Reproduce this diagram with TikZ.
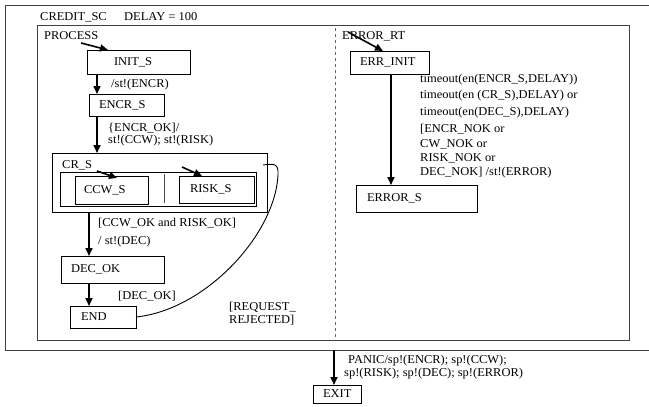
\documentclass[tikz,border=0pt]{standalone}
\usepackage{fontspec}
\setmainfont[FakeStretch=1.04]{Liberation Serif}
\usetikzlibrary{arrows.meta,calc}

\begin{document}
\begin{tikzpicture}[x=1pt, y=-1pt,
    font=\fontsize{12}{14}\selectfont,
    state/.style={draw, line width=1pt, anchor=north west, inner ysep=0pt, outer sep=0pt, align=left},
    region/.style={draw=black!75, line width=1pt, anchor=north west, inner sep=0pt, outer sep=0pt},
    arr/.style={line width=1.6pt, -{Triangle[length=8pt, width=7pt]}},
    lbl/.style={anchor=base west, inner sep=0pt}]
    \useasboundingbox (0,0) rectangle (649,407);
    \clip (0,0) rectangle (649,407);

    % Outer chart and the two regions
    \node[region, minimum width=700pt, minimum height=345pt] (credit) at (5,5) {};
    \node[region, minimum width=592pt, minimum height=315pt] (proc) at (37,25) {};
    \draw[dashed, black!60] ([xshift=298pt, yshift=-3pt]proc.north west) -- ([xshift=298pt, yshift=2pt]proc.south west);

    \node[lbl] (creditname) at (40,20) {CREDIT\_SC};
    \node[lbl] (delay) at (124,20) {DELAY = 100};
    \node[lbl] (procname) at (44,39) {PROCESS};
    \node[lbl] (errname) at (342,39) {ERROR\_RT};

    % PROCESS states
    \node[state, text width=49pt, inner xsep=27pt, minimum height=24pt] (init) at (87,50) {INIT\_S};
    \node[state, text width=55pt, inner xsep=10pt, minimum height=22pt] (encr) at (89,94) {ENCR\_S};
    \node[state, minimum width=215pt, minimum height=59pt, inner sep=0pt] (cr) at (52,153) {};
    \node[lbl] (crname) at (62,168) {CR\_S};
    \node[state, minimum width=196pt, minimum height=34pt, inner sep=0pt] (crin) at (60,172) {};
    \node[state, text width=55pt, inner xsep=9pt, minimum height=28pt] (ccw) at (75,176) {CCW\_S};
    \node[state, text width=53pt, inner xsep=11pt, minimum height=27pt] (risk) at (179,176) {RISK\_S};
    \draw[line width=1pt, black!70] ([xshift=104pt, yshift=-2pt]crin.north west) -- ([xshift=104pt, yshift=3pt]crin.south west);
    \node[state, text width=83pt, inner xsep=10pt, minimum height=27pt] (decok) at (61,256) {DEC\_OK};
    \node[state, text width=44pt, inner xsep=11pt, minimum height=22pt] (endst) at (70,306) {END};

    % ERROR_RT states
    \node[state, text width=59pt, inner xsep=10pt, minimum height=23pt] (errinit) at (350,51) {ERR\_INIT};
    \node[state, text width=99pt, inner xsep=11pt, minimum height=27pt] (errors) at (356,185) {ERROR\_S};

    % Exit state
    \node[state, text width=28pt, inner xsep=10pt, minimum height=18pt] (exit) at (313,385) {EXIT};

    % Default entries
    \coordinate (procsrc) at (81,43);
    \coordinate (ccwsrc) at (97,171);
    \coordinate (risksrc) at (182,167);
    \coordinate (errsrc) at (348,32);
    \draw[arr] (procsrc) -- ([xshift=21pt]init.north west);
    \draw[arr] (ccwsrc) -- ([xshift=42pt, yshift=-2pt]ccw.north west);
    \draw[arr] (risksrc) -- ([xshift=23pt]risk.north west);
    \draw[arr] (errsrc) -- ([xshift=33pt]errinit.north west);

    % Transitions
    \draw[arr] ([xshift=10pt]init.south west) -- ([xshift=8pt]encr.north west);
    \node[lbl] (encrlbl) at (111,87) {/st!(ENCR)};

    \draw[arr] ([xshift=8pt]encr.south west) -- ([xshift=45pt]cr.north west);
    \node[lbl] (crlbla) at (108,131) {\{ENCR\_OK]/};
    \node[lbl] (crlblb) at (108,143) {st!(CCW); st!(RISK)};

    \draw[arr] ([xshift=37pt]cr.south west) -- ([xshift=28pt]decok.north west);
    \node[lbl] (declbla) at (98,226) {[CCW\_OK and RISK\_OK]};
    \node[lbl] (declblb) at (98,244) {/ st!(DEC)};

    \draw[arr] ([xshift=28pt]decok.south west) -- ([xshift=19pt]endst.north west);
    \node[lbl] (endlbl) at (118,299) {[DEC\_OK]};

    \draw[line width=0.9pt] (endst.east) .. controls (205,310) and (275,235) .. (278,175)
        .. controls (279,162) and (272,164) .. ([xshift=-4pt, yshift=-12pt]cr.north east);
    \node[lbl] (rejlbla) at (229,310) {[REQUEST\_};
    \node[lbl] (rejlblb) at (229,323) {REJECTED]};

    \draw[arr] ([xshift=41pt]errinit.south west) -- ([xshift=35pt]errors.north west);
    \node[lbl] (errlbla) at (420,82) {timeout(en(ENCR\_S,DELAY))};
    \node[lbl] (errlblb) at (420,98) {timeout(en (CR\_S),DELAY) or};
    \node[lbl] (errlblc) at (420,115) {timeout(en(DEC\_S),DELAY)};
    \node[lbl] (errlbld) at (420,132) {[ENCR\_NOK or};
    \node[lbl] (errlble) at (420,147) {CW\_NOK or};
    \node[lbl] (errlblf) at (420,161) {RISK\_NOK or};
    \node[lbl] (errlblg) at (420,175) {DEC\_NOK] /st!(ERROR)};

    \draw[arr] ([xshift=329pt]credit.south west) -- ([xshift=21pt]exit.north west);
    \node[lbl] (paniclbla) at (348,363) {PANIC/sp!(ENCR); sp!(CCW);};
    \node[lbl] (paniclblb) at (344,376) {sp!(RISK); sp!(DEC); sp!(ERROR)};

\end{tikzpicture}
\end{document}
